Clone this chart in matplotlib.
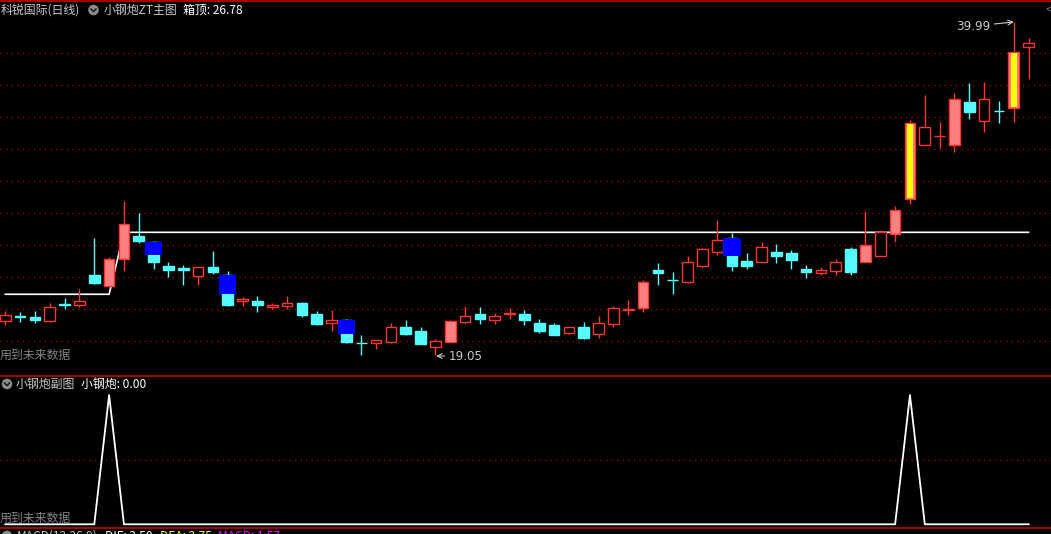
import matplotlib
matplotlib.use('Agg')
import matplotlib.pyplot as plt
from matplotlib.patches import Rectangle, Circle

plt.rcParams['font.family'] = ['Noto Sans CJK SC', 'DejaVu Sans']

# daily bars
opens = [21.19, 21.50, 21.46, 21.23, 22.25, 22.24, 24.10, 23.43, 25.11, 26.55,
         26.17, 24.67, 24.54, 24.06, 24.60, 24.10, 22.45, 22.47, 22.09, 22.17,
         22.34, 21.65, 21.11, 21.28, 19.83, 19.82, 19.89, 20.84, 20.58, 19.56,
         19.91, 21.17, 21.65, 21.26, 21.67, 21.65, 21.11, 20.96, 20.44, 20.84,
         20.38, 21.04, 21.92, 22.05, 24.42, 23.79, 23.68, 24.67, 25.56, 26.43,
         24.98, 24.94, 25.55, 25.48, 24.48, 24.21, 24.37, 25.73, 24.94, 25.31,
         26.66, 28.86, 32.25, 32.83, 32.28, 34.97, 33.75, 34.43, 34.61, 38.44]
highs = [21.82, 21.78, 21.84, 22.34, 22.66, 23.22, 26.43, 25.23, 28.75, 28.00,
         26.24, 24.92, 24.73, 24.59, 25.61, 24.35, 22.72, 22.78, 22.34, 22.78,
         22.41, 21.84, 21.90, 21.34, 20.33, 20.01, 21.11, 21.28, 20.84, 20.08,
         21.28, 22.15, 22.07, 21.72, 22.03, 21.90, 21.34, 21.09, 20.82, 21.15,
         21.53, 22.15, 22.53, 23.79, 24.86, 24.29, 25.29, 25.80, 27.56, 26.76,
         25.48, 26.17, 26.05, 25.67, 24.73, 24.59, 25.11, 25.86, 28.12, 26.93,
         28.45, 33.84, 35.41, 33.71, 35.53, 36.16, 36.22, 35.01, 39.99, 38.99]
lows = [20.98, 21.15, 21.11, 21.15, 21.97, 22.11, 23.54, 23.35, 24.35, 26.13,
        24.48, 23.98, 23.47, 23.47, 24.18, 22.15, 22.15, 21.78, 21.97, 21.97,
        21.46, 20.96, 20.60, 19.83, 19.08, 19.45, 19.82, 20.33, 19.77, 19.05,
        19.91, 21.11, 21.04, 21.04, 21.36, 20.98, 20.48, 20.33, 20.38, 20.10,
        20.16, 20.86, 21.61, 21.80, 23.47, 22.91, 23.60, 24.59, 25.36, 24.37,
        24.48, 24.92, 24.86, 24.48, 23.91, 24.10, 24.10, 24.10, 24.94, 25.31,
        26.19, 28.53, 32.25, 32.10, 31.84, 33.88, 33.06, 33.67, 33.73, 36.43]
closes = [21.57, 21.46, 21.28, 22.09, 22.22, 22.45, 23.60, 25.09, 27.30, 26.24,
          24.92, 24.42, 24.42, 24.59, 24.29, 22.22, 22.59, 22.24, 22.22, 22.34,
          21.59, 21.04, 21.28, 19.89, 19.80, 20.00, 20.82, 20.42, 19.79, 19.94,
          21.21, 21.53, 21.34, 21.51, 21.68, 21.29, 20.60, 20.35, 20.82, 20.16,
          21.07, 22.01, 21.93, 23.64, 24.23, 23.76, 24.90, 25.72, 26.28, 24.67,
          24.67, 25.84, 25.29, 25.04, 24.29, 24.42, 24.92, 24.29, 25.99, 26.78,
          28.18, 33.63, 33.38, 32.84, 35.15, 34.34, 35.15, 34.40, 38.11, 38.67]

salmon_idx = [7, 8, 30, 43, 58, 60, 64]
yellow_idx = [61, 68]
blue_idx = [10, 15, 23, 49]
blue_low = [25.36, 22.93, 20.40, 25.31]

box_top = [22.89] * 8 + [26.78] * 62
signal = [0, 0, 0, 0, 0, 0, 0, 1, 0, 0,
          0, 0, 0, 0, 0, 0, 0, 0, 0, 0,
          0, 0, 0, 0, 0, 0, 0, 0, 0, 0,
          0, 0, 0, 0, 0, 0, 0, 0, 0, 0,
          0, 0, 0, 0, 0, 0, 0, 0, 0, 0,
          0, 0, 0, 0, 0, 0, 0, 0, 0, 0,
          0, 1, 0, 0, 0, 0, 0, 0, 0, 0]
grid_levels = [38.04, 36.03, 34.02, 32.01, 30.00, 27.99, 25.98, 23.97, 21.96, 19.95]

RED = '#ff3232'
CYAN = '#54fcfc'
SALMON = '#ff8080'
GRIDRED = '#a00000'
LINERED = '#b40000'

fig = plt.figure(figsize=(10.51, 5.34), dpi=100, facecolor='black')

# main panel
ax = fig.add_axes([0, 159 / 534, 1, 375 / 534])
ax.set_facecolor('black')
ax.set_xlim(-0.357, 70.51)
ax.set_ylim(17.82, 41.37)
ax.axis('off')
for g in grid_levels:
    ax.axhline(g, color=GRIDRED, lw=1, ls=(0, (1, 3)), zorder=0)

n = len(opens)
x = list(range(n))
ax.plot(x, box_top, color='white', lw=1.2, zorder=1)

w = 0.72
for i in range(n):
    o, h, l, c = opens[i], highs[i], lows[i], closes[i]
    up = c >= o
    col = RED if up else CYAN
    ax.vlines(i, l, h, color=col, lw=1, zorder=2)
    bot = min(o, c)
    hgt = max(abs(c - o), 0.02)
    if i in yellow_idx:
        ax.add_patch(Rectangle((i - w / 2, bot), w, hgt, facecolor=SALMON,
                               edgecolor=RED, lw=1, zorder=3))
        ax.add_patch(Rectangle((i - 0.22, bot + 0.05), 0.44, hgt - 0.1,
                               facecolor='#ffff00', edgecolor='none', zorder=4))
    elif i in salmon_idx:
        ax.add_patch(Rectangle((i - w / 2, bot), w, hgt, facecolor=SALMON,
                               edgecolor=RED, lw=1, zorder=3))
    elif up:
        ax.add_patch(Rectangle((i - w / 2, bot), w, hgt, facecolor='black',
                               edgecolor=RED, lw=1, zorder=3))
    else:
        ax.add_patch(Rectangle((i - w / 2, bot), w, hgt, facecolor=CYAN,
                               edgecolor=CYAN, lw=1, zorder=3))

for i, bl in zip(blue_idx, blue_low):
    ax.add_patch(Rectangle((i - 0.575, bl), 1.15, opens[i] - bl,
                           facecolor='#0000ff', edgecolor='none', zorder=5))

# extreme labels
lo_i = lows.index(min(lows))
hi_i = highs.index(max(highs))
ax.annotate('%.2f' % lows[lo_i], xy=(lo_i + 0.05, lows[lo_i] - 0.04),
            xytext=(9, 0), textcoords='offset points', ha='left', va='center',
            color='#c8c8c8', fontsize=8.6, family='DejaVu Sans',
            arrowprops=dict(arrowstyle='->', color='#c8c8c8', lw=0.8,
                            shrinkA=1, shrinkB=0))
ax.annotate('%.2f' % highs[hi_i], xy=(hi_i, highs[hi_i]),
            xytext=(-17, -3), textcoords='offset points', ha='right', va='center',
            color='#c8c8c8', fontsize=8.6, family='DejaVu Sans',
            arrowprops=dict(arrowstyle='->', color='#c8c8c8', lw=0.8,
                            shrinkA=1, shrinkB=0))

# sub panel
ax2 = fig.add_axes([0, 7 / 534, 1, 151 / 534])
ax2.set_facecolor('black')
ax2.set_xlim(-0.357, 70.51)
ax2.set_ylim(-0.021, 1.147)
ax2.axis('off')
ax2.axhline(0.5, color=GRIDRED, lw=1, ls=(0, (1, 3)), zorder=0)
ax2.plot(x, signal, color='white', lw=1.3)

# overlay in pixel coords for headers and separators
ov = fig.add_axes([0, 0, 1, 1])
ov.set_xlim(0, 1051)
ov.set_ylim(534, 0)
ov.axis('off')
ov.patch.set_alpha(0)
ov.axhline(0.6, color='#c80000', lw=1.2)
ov.axhline(375.5, color=LINERED, lw=1.2)
ov.axhline(527.5, color=LINERED, lw=1.2)


def icon(cx, cy):
    ov.add_patch(Circle((cx, cy), 5.3, facecolor='#8c8c8c', edgecolor='none'))
    ov.plot([cx - 2.5, cx, cx + 2.5], [cy - 1, cy + 1.6, cy - 1],
            color='#1e1e1e', lw=1.1)


fs = 8.6
ov.text(1, 10, '科锐国际(日线)', color='#c8c8c8', fontsize=fs, va='center')
icon(93.5, 10)
ov.text(104, 10, '小钢炮ZT主图', color='#c8c8c8', fontsize=fs, va='center')
ov.text(183, 10, '箱顶: 26.78', color='white', fontsize=fs, va='center')
ov.text(1046, 10, '<', color='#808080', fontsize=8, va='center')

ov.text(0, 355, '用到未来数据', color='#808080', fontsize=fs, va='center')

icon(7, 384)
ov.text(16, 384, '小钢炮副图', color='#c8c8c8', fontsize=fs, va='center')
ov.text(81, 384, '小钢炮: 0.00', color='white', fontsize=fs, va='center')
ov.text(0, 518.5, '用到未来数据', color='#808080', fontsize=fs, va='center')

icon(7, 536)
ov.text(17, 530, 'MACD(12,26,9)', color='#c8c8c8', fontsize=fs, va='top')
ov.text(105, 530, 'DIF: 3.50', color='white', fontsize=fs, va='top')
ov.text(160, 530, 'DEA: 2.75', color='#ffff00', fontsize=fs, va='top')
ov.text(218, 530, 'MACD: 1.57', color='#ff00ff', fontsize=fs, va='top')

fig.savefig('out.png', dpi=100, facecolor='black')
